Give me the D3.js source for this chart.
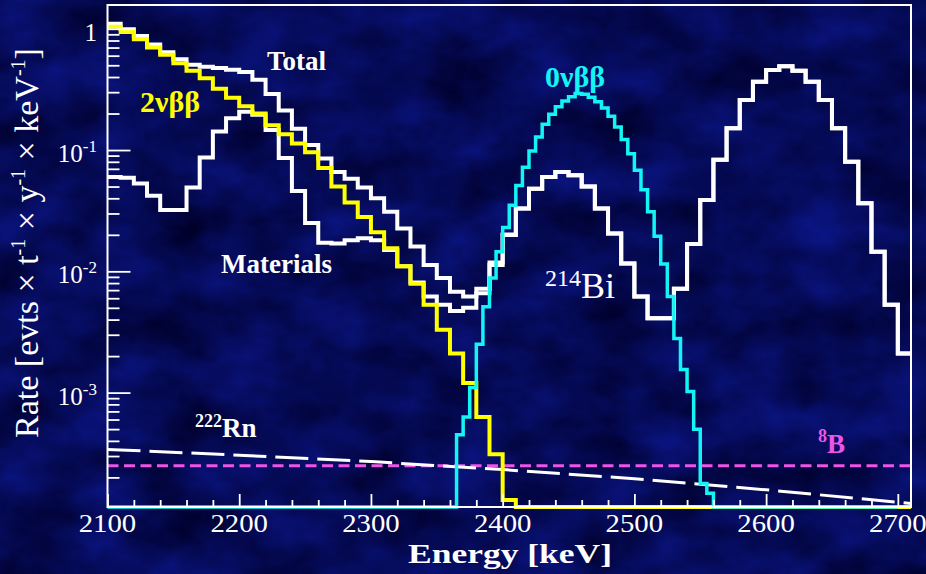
<!DOCTYPE html>
<html>
<head>
<meta charset="utf-8">
<script src="https://cdn.jsdelivr.net/npm/d3@7"></script>
<style>
  html, body { margin: 0; padding: 0; background: #060b52; overflow: hidden; }
  text { font-family: "Liberation Serif", "Times New Roman", serif; }
</style>
</head>
<body>
<svg id="chart" width="926" height="574"></svg>
<script>
// ---------- data (rates in evts / t / y / keV) ----------
const binStart = 2100;
const binWidth = 10;

// Total background, 10 keV bins from 2100 keV
const totalRate = [
  1.10, 0.99, 0.87, 0.74, 0.64, 0.56, 0.505, 0.485, 0.475, 0.46,
  0.44, 0.38, 0.29, 0.212, 0.15, 0.11, 0.085, 0.066, 0.058, 0.049,
  0.040, 0.031, 0.0225, 0.016, 0.0113, 0.0088, 0.0068, 0.0062, 0.0072, 0.0118,
  0.0201, 0.033, 0.048, 0.060, 0.066, 0.062, 0.050, 0.033, 0.0205, 0.0116,
  0.0062, 0.0041, 0.0041, 0.0072, 0.0168, 0.0387, 0.083, 0.151, 0.258, 0.366,
  0.457, 0.49, 0.45, 0.366, 0.258, 0.151, 0.080, 0.0365, 0.0145, 0.0053,
  0.0021
];

// Detector materials, 10 keV bins from 2100 keV
const materialsRate = [
  0.060, 0.059, 0.053, 0.042, 0.032, 0.032, 0.049, 0.087, 0.142, 0.183,
  0.207, 0.195, 0.146, 0.086, 0.046, 0.025, 0.0172, 0.0170, 0.0180, 0.0187,
  0.0180, 0.0150, 0.0110, 0.0081, 0.0062, 0.0053, 0.0047, 0.0050, 0.0066, 0.0113,
  0.0199, 0.033, 0.048, 0.060, 0.066, 0.062, 0.050, 0.033, 0.0205, 0.0116,
  0.0062, 0.0041, 0.0041, 0.0072, 0.0168, 0.0387, 0.083, 0.151, 0.258, 0.366,
  0.457, 0.49, 0.45, 0.366, 0.258, 0.151, 0.080, 0.0365, 0.0145, 0.0053,
  0.0021
];

// 2vbb, 10 keV bins from 2100 keV; empty above 2410 keV up to 2710 keV
const twoNuRate = [
  1.04, 0.94, 0.82, 0.70, 0.61, 0.52, 0.45, 0.39, 0.32, 0.27,
  0.23, 0.20, 0.16, 0.135, 0.113, 0.096, 0.071, 0.050, 0.037, 0.028,
  0.021, 0.0155, 0.011, 0.0079, 0.0053, 0.0033, 0.0021, 0.0012, 0.00063, 0.00031,
  0.00013
];
const twoNuRange = [2100, 2710];

// 0vbb signal, 5 keV bins from 2365 keV; empty elsewhere in 2100-2700 keV
const zeroNuStart = 2365;
const zeroNuWidth = 5;
const zeroNuRate = [
  0.00045, 0.00063, 0.0011, 0.0025, 0.0051, 0.0088, 0.0145, 0.023, 0.035, 0.051,
  0.072, 0.098, 0.128, 0.163, 0.197, 0.228, 0.254, 0.275, 0.292, 0.288,
  0.272, 0.25, 0.222, 0.19, 0.155, 0.122, 0.093, 0.068, 0.047, 0.031,
  0.0195, 0.0115, 0.0062, 0.0028, 0.00155, 0.00102, 0.0005, 0.000178, 0.000148
];
const zeroNuRange = [2100, 2700];

// 222Rn and 8B contributions
const rnEnergy = [2100, 2200, 2300, 2400, 2500, 2600, 2710];
const rnRate   = [3.4e-4, 3.05e-4, 2.7e-4, 2.32e-4, 1.95e-4, 1.58e-4, 1.22e-4];
const b8Energy = [2100, 2710];
const b8Rate   = [2.5e-4, 2.5e-4];

// axes
const xDomain = [2100, 2710];
const yDomain = [1.14e-4, 1.57];
const xMajorTicks = [2100, 2200, 2300, 2400, 2500, 2600, 2700];
const yMajorTicks = [1, 1e-1, 1e-2, 1e-3];
const yTickLabels = [["1", ""], ["10", "-1"], ["10", "-2"], ["10", "-3"]];

// ---------- layout ----------
const svg = d3.select("#chart");
const plot = { left: 107.5, right: 911, top: 5, bottom: 507 };

const x = d3.scaleLinear().domain(xDomain).range([plot.left, plot.right]);
const y = d3.scaleLog().domain(yDomain).range([plot.bottom, plot.top]).clamp(true);

// ---------- textured navy background ----------
const defs = svg.append("defs");
const tex = defs.append("filter").attr("id", "tex")
  .attr("x", 0).attr("y", 0).attr("width", 926).attr("height", 574)
  .attr("filterUnits", "userSpaceOnUse")
  .attr("color-interpolation-filters", "sRGB");
tex.append("feTurbulence").attr("type", "fractalNoise")
  .attr("baseFrequency", "0.014 0.02").attr("numOctaves", 4).attr("seed", 11);
tex.append("feColorMatrix").attr("type", "matrix")
  .attr("values", "0.05 0 0 0 -0.005  0.10 0 0 0 -0.01  0.42 0 0 0 0.13  0 0 0 0 1");

svg.append("rect").attr("width", 926).attr("height", 574).attr("filter", "url(#tex)");

// ---------- histogram helpers ----------
function makeBins(start, width, values) {
  return values.map((v, i) => ({ x0: start + i * width, x1: start + (i + 1) * width, v }));
}
function stepPath(bins) {
  const p = d3.path();
  bins.forEach((b, i) => {
    const yy = y(Math.max(b.v, yDomain[0]));
    if (i === 0) p.moveTo(x(b.x0), yy); else p.lineTo(x(b.x0), yy);
    p.lineTo(x(b.x1), yy);
  });
  return p.toString();
}

const g = svg.append("g");

// flat contributions first
g.append("path")
  .attr("d", d3.line().x((d, i) => x(b8Energy[i])).y(d => y(d))(b8Rate))
  .attr("fill", "none").attr("stroke", "#ee55e6").attr("stroke-width", 3)
  .attr("stroke-dasharray", "11,5.5");

g.append("path")
  .attr("d", d3.line().x((d, i) => x(rnEnergy[i])).y(d => y(d))(rnRate))
  .attr("fill", "none").attr("stroke", "#ffffff").attr("stroke-width", 3)
  .attr("stroke-dasharray", "33,9");

// materials and total
g.append("path").attr("d", stepPath(makeBins(binStart, binWidth, materialsRate)))
  .attr("fill", "none").attr("stroke", "#ffffff").attr("stroke-width", 4);
g.append("path").attr("d", stepPath(makeBins(binStart, binWidth, totalRate)))
  .attr("fill", "none").attr("stroke", "#ffffff").attr("stroke-width", 4);

// 2vbb
const twoNuBins = makeBins(binStart, binWidth, twoNuRate);
twoNuBins.push({ x0: twoNuBins[twoNuBins.length - 1].x1, x1: twoNuRange[1], v: 0 });
g.append("path").attr("d", stepPath(twoNuBins))
  .attr("fill", "none").attr("stroke", "#ffff00").attr("stroke-width", 4);

// 0vbb
const zeroNuBins = makeBins(zeroNuStart, zeroNuWidth, zeroNuRate);
zeroNuBins.unshift({ x0: zeroNuRange[0], x1: zeroNuStart, v: 0 });
zeroNuBins.push({ x0: zeroNuBins[zeroNuBins.length - 1].x1, x1: zeroNuRange[1], v: 0 });
g.append("path").attr("d", stepPath(zeroNuBins))
  .attr("fill", "none").attr("stroke", "#14f4f4").attr("stroke-width", 3.5);

// ---------- frame and axes ----------
svg.append("rect")
  .attr("x", plot.left).attr("y", plot.top)
  .attr("width", plot.right - plot.left).attr("height", plot.bottom - plot.top)
  .attr("fill", "none").attr("stroke", "#ffffff").attr("stroke-width", 2);

const xMinor = d3.range(2100, 2711, 20).filter(v => v % 100 !== 0);
svg.append("g").attr("transform", `translate(0,${plot.bottom})`)
  .call(d3.axisBottom(x).tickValues(xMinor).tickSize(-7).tickFormat(""));
svg.append("g").attr("transform", `translate(0,${plot.bottom})`)
  .call(d3.axisBottom(x).tickValues(xMajorTicks).tickSize(-13).tickFormat(""));

const yMinor = [];
[1e-4, 1e-3, 1e-2, 1e-1].forEach(d => { for (let k = 2; k <= 9; k++) yMinor.push(d * k); });
const yMinorIn = yMinor.filter(v => v >= yDomain[0] && v <= yDomain[1]);
svg.append("g").attr("transform", `translate(${plot.left},0)`)
  .call(d3.axisLeft(y).tickValues(yMinorIn).tickSize(-12).tickFormat(""));
svg.append("g").attr("transform", `translate(${plot.left},0)`)
  .call(d3.axisLeft(y).tickValues(yMajorTicks).tickSize(-23).tickFormat(""));

svg.selectAll(".domain").remove();
svg.selectAll(".tick line").attr("stroke", "#ffffff").attr("stroke-width", 1.8);

// tick labels
xMajorTicks.forEach(v => {
  svg.append("text").attr("x", x(v)).attr("y", 532)
    .attr("text-anchor", "middle").attr("fill", "#fff")
    .attr("font-size", 25)
    .attr("transform", `translate(${x(v)},0) scale(1.15,1) translate(${-x(v)},0)`)
    .text(v);
});
yMajorTicks.forEach((v, i) => {
  const t = svg.append("text").attr("x", 97).attr("y", y(v) + 12)
    .attr("text-anchor", "end").attr("fill", "#fff").attr("font-size", 25);
  t.append("tspan").text(yTickLabels[i][0]);
  if (yTickLabels[i][1]) {
    t.append("tspan").attr("dy", -10).attr("font-size", 17).text(yTickLabels[i][1]);
  }
});

// axis titles
svg.append("text").attr("x", 510).attr("y", 563).attr("text-anchor", "middle")
  .attr("fill", "#fff").attr("font-size", 28).attr("font-weight", "bold")
  .attr("textLength", 204).attr("lengthAdjust", "spacingAndGlyphs")
  .text("Energy [keV]");

const yt = svg.append("text").attr("transform", "translate(38,243) rotate(-90)")
  .attr("text-anchor", "middle").attr("fill", "#fff").attr("font-size", 34);
yt.append("tspan").text("Rate [evts × t");
yt.append("tspan").attr("dy", -13).attr("font-size", 20).text("-1");
yt.append("tspan").attr("dy", 13).text(" × y");
yt.append("tspan").attr("dy", -13).attr("font-size", 20).text("-1");
yt.append("tspan").attr("dy", 13).text(" × keV");
yt.append("tspan").attr("dy", -13).attr("font-size", 20).text("-1");
yt.append("tspan").attr("dy", 13).text("]");

// ---------- series labels ----------
function label(txt, xPos, yPos, color, size, weight) {
  return svg.append("text").attr("x", xPos).attr("y", yPos).attr("fill", color)
    .attr("font-size", size).attr("font-weight", weight || "bold").text(txt);
}
label("Total", 267, 70, "#ffffff", 27);
label("2νββ", 140, 112, "#ffff00", 30);
label("0νββ", 545, 87, "#14f4f4", 30);
label("Materials", 221, 273, "#ffffff", 27);

const bi = svg.append("text").attr("x", 545).attr("y", 298).attr("fill", "#fff");
bi.append("tspan").attr("font-size", 24).attr("dy", -12).text("214");
bi.append("tspan").attr("font-size", 36).attr("dy", 12).text("Bi");

const rn = svg.append("text").attr("x", 195).attr("y", 437).attr("fill", "#fff").attr("font-weight", "bold");
rn.append("tspan").attr("font-size", 18).attr("dy", -10).text("222");
rn.append("tspan").attr("font-size", 27).attr("dy", 10).text("Rn");

const b8 = svg.append("text").attr("x", 818).attr("y", 453).attr("fill", "#ee55e6").attr("font-weight", "bold");
b8.append("tspan").attr("font-size", 18).attr("dy", -11).text("8");
b8.append("tspan").attr("font-size", 27).attr("dy", 11).text("B");
</script>
</body>
</html>
